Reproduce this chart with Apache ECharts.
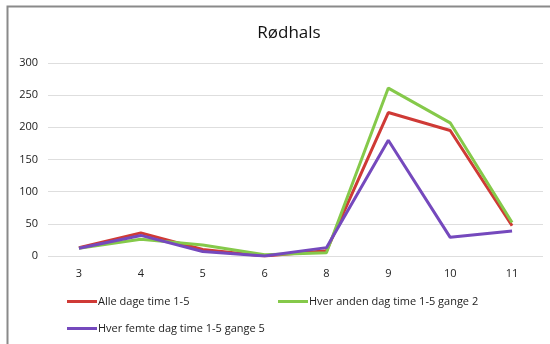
<!DOCTYPE html>
<html><head><meta charset="utf-8">
<script src="https://cdn.jsdelivr.net/npm/echarts@6/dist/echarts.min.js"></script>
<style>html,body{margin:0;padding:0;background:#fff}#c{width:550px;height:344px}</style>
</head><body><div id="c"></div>
<script>
const title = 'Rødhals';
const categories = ['3','4','5','6','8','9','10','11'];
const seriesNames = ['Alle dage time 1-5','Hver anden dag time 1-5 gange 2','Hver femte dag time 1-5 gange 5'];
const alleDage = [13, 36, 10, 0, 8, 223, 195, 47];
const hverAnden = [12, 26, 17, 2, 5, 261, 207, 52];
const hverFemte = [12, 32, 7, 0, 13, 180, 29, 39];
const colors = ['#cf3a36', '#85c94a', '#7549bd'];
const values = [alleDage, hverAnden, hverFemte];
const font = '"Open Sans", "Liberation Sans", sans-serif';

const chart = echarts.init(document.getElementById('c'), null, {renderer: 'canvas'});
const legendPos = [{left: 67, top: 296}, {left: 278, top: 296}, {left: 67, top: 323}];
chart.setOption({
  backgroundColor: '#fff',
  animation: false,
  title: {text: title, left: 284, top: 20, textAlign: 'center',
    textStyle: {fontFamily: font, fontSize: 17, fontWeight: 'normal', color: '#111'}},
  graphic: [{type: 'rect', shape: {x: 7.5, y: 6.5, width: 600, height: 400},
    style: {fill: null, stroke: '#8a8a8a', lineWidth: 2}, silent: true, z: 100}],
  grid: {left: 48, right: 7, top: 63, bottom: 88},
  legend: seriesNames.map((n, i) => ({
    data: [n], left: legendPos[i].left, top: legendPos[i].top, padding: 0,
    icon: 'rect', itemWidth: 30, itemHeight: 3, itemGap: 0,
    textStyle: {fontFamily: font, fontSize: 11, color: '#222', padding: [0, 0, 0, -4]}
  })),
  xAxis: {type: 'category', data: categories, boundaryGap: true,
    axisLine: {show: false}, axisTick: {show: false},
    axisLabel: {fontFamily: font, fontSize: 11, color: '#222', margin: 12}},
  yAxis: {type: 'value', min: 0, max: 300, interval: 50,
    axisLine: {show: false}, axisTick: {show: false},
    axisLabel: {fontFamily: font, fontSize: 11, color: '#222', margin: 10},
    splitLine: {lineStyle: {color: '#dedede', width: 1}}},
  series: values.map((v, i) => ({
    name: seriesNames[i], type: 'line', data: v, showSymbol: false, symbol: 'none',
    lineStyle: {color: colors[i], width: 3}, itemStyle: {color: colors[i]}
  }))
});
</script></body></html>
